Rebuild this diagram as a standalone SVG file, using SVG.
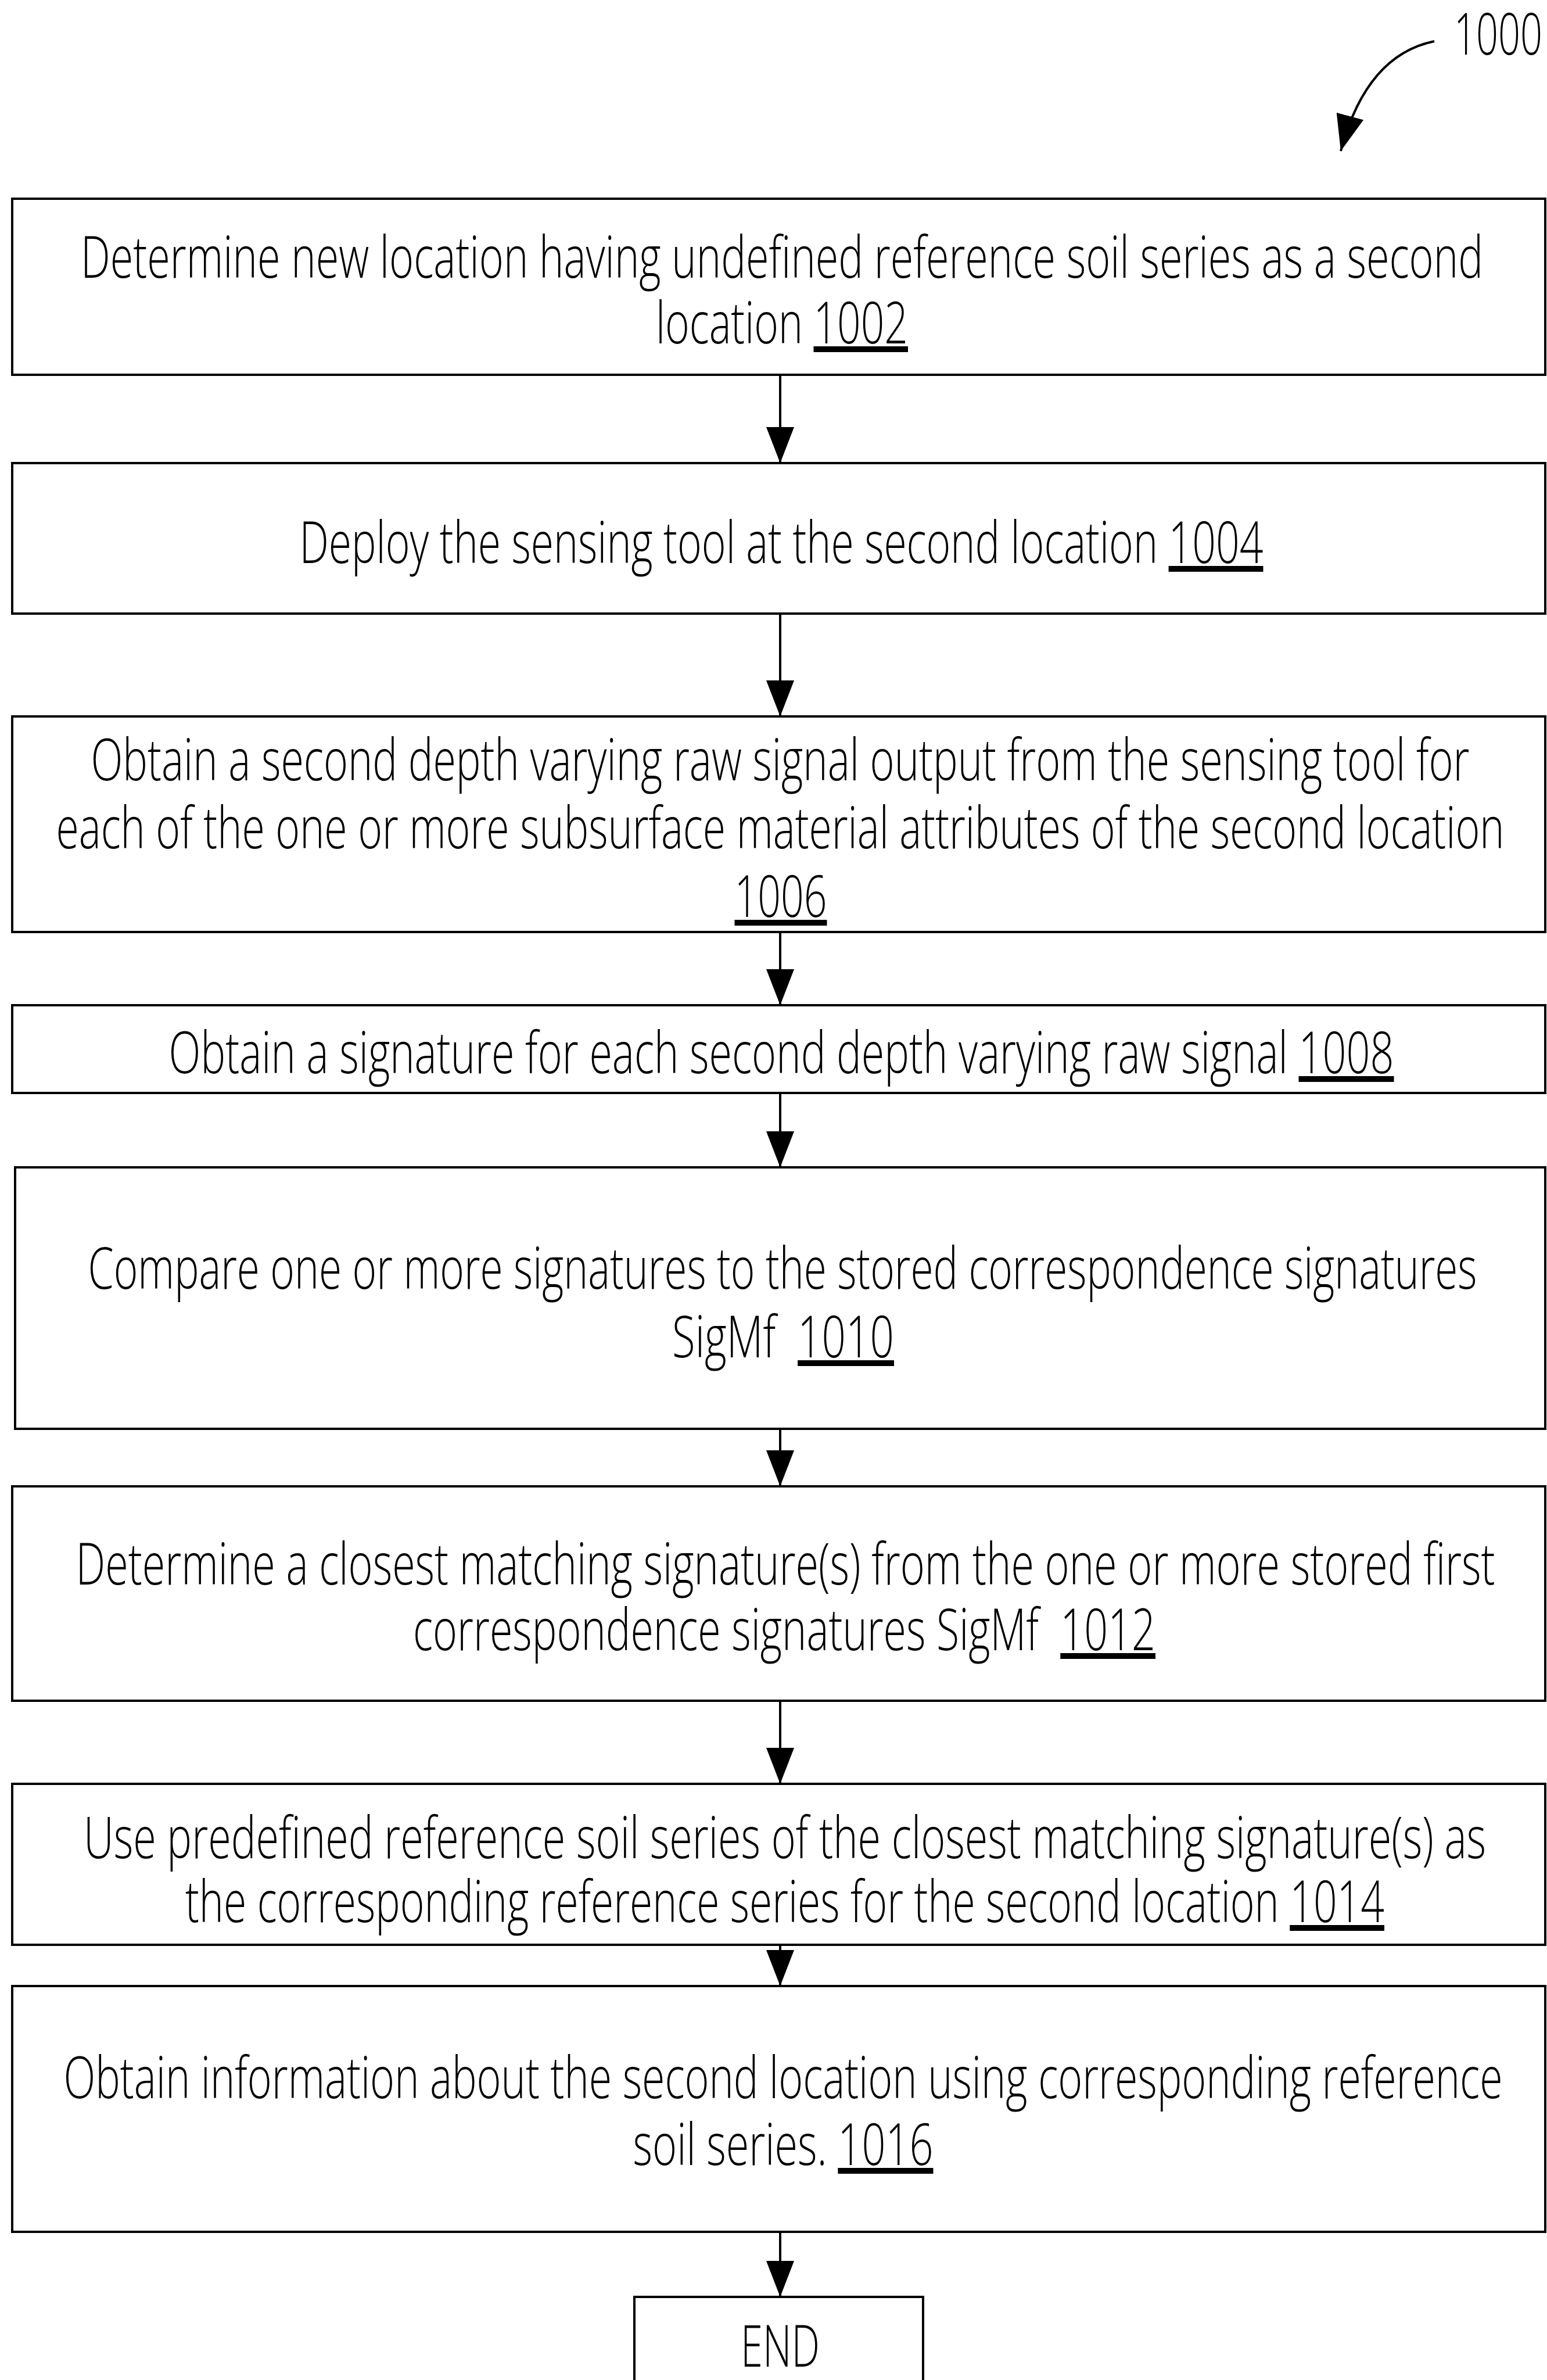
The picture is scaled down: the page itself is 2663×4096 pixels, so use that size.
<svg xmlns="http://www.w3.org/2000/svg" width="2663" height="4096" viewBox="0 0 2663 4096">
<style>
.box{fill:#fff;stroke:#000;stroke-width:4}
.t{font-family:"Open Sans","Liberation Sans",sans-serif;font-weight:300;font-size:100px;fill:#000;text-anchor:middle}
.u{text-decoration:underline}
.c{fill:none;stroke:#000;stroke-width:4}
</style>
<defs>
<marker id="ah" viewBox="0 0 62 48" refX="62" refY="24" markerWidth="62" markerHeight="48" markerUnits="userSpaceOnUse" orient="auto">
<path d="M0,0 L62,24 L0,48 z" fill="#000"/>
</marker>
</defs>
<rect width="2663" height="4096" fill="#fff"/>
<g id="connectors">
<path class="c" d="M2469,71 Q2352,95 2308,260" marker-end="url(#ah)"/>
<line class="c" x1="1343" y1="645" x2="1343" y2="797" marker-end="url(#ah)"/>
<line class="c" x1="1343" y1="1056" x2="1343" y2="1233" marker-end="url(#ah)"/>
<line class="c" x1="1343" y1="1604" x2="1343" y2="1730" marker-end="url(#ah)"/>
<line class="c" x1="1343" y1="1881" x2="1343" y2="2009" marker-end="url(#ah)"/>
<line class="c" x1="1343" y1="2459" x2="1343" y2="2558" marker-end="url(#ah)"/>
<line class="c" x1="1343" y1="2927" x2="1343" y2="3070" marker-end="url(#ah)"/>
<line class="c" x1="1343" y1="3347" x2="1343" y2="3418" marker-end="url(#ah)"/>
<line class="c" x1="1343" y1="3841" x2="1343" y2="3953" marker-end="url(#ah)"/>
</g>
<g id="label1000">
<text class="t" x="2579" y="94" textLength="152" lengthAdjust="spacingAndGlyphs">1000</text>
</g>
<g id="n1002">
<rect class="box" x="21" y="342" width="2639" height="303"/>
<text class="t" x="1346" y="478" textLength="2414" lengthAdjust="spacingAndGlyphs">Determine new location having undefined reference soil series as a second</text>
<text class="t" x="1346" y="591" textLength="434" lengthAdjust="spacingAndGlyphs">location <tspan class="u">1002</tspan></text>
</g>
<g id="n1004">
<rect class="box" x="21" y="797" width="2639" height="259"/>
<text class="t" x="1345" y="969" textLength="1659" lengthAdjust="spacingAndGlyphs">Deploy the sensing tool at the second location <tspan class="u">1004</tspan></text>
</g>
<g id="n1006">
<rect class="box" x="21" y="1233" width="2639" height="371"/>
<text class="t" x="1343" y="1343" textLength="2373" lengthAdjust="spacingAndGlyphs">Obtain a second depth varying raw signal output from the sensing tool for</text>
<text class="t" x="1343" y="1460" textLength="2493" lengthAdjust="spacingAndGlyphs">each of the one or more subsurface material attributes of the second location</text>
<text class="t" x="1344" y="1578" textLength="159" lengthAdjust="spacingAndGlyphs"><tspan class="u">1006</tspan></text>
</g>
<g id="n1008">
<rect class="box" x="21" y="1730" width="2639" height="151"/>
<text class="t" x="1345" y="1847" textLength="2109" lengthAdjust="spacingAndGlyphs">Obtain a signature for each second depth varying raw signal <tspan class="u">1008</tspan></text>
</g>
<g id="n1010">
<rect class="box" x="26" y="2009" width="2634" height="450"/>
<text class="t" x="1347" y="2218" textLength="2391" lengthAdjust="spacingAndGlyphs">Compare one or more signatures to the stored correspondence signatures</text>
<text class="t" x="1348" y="2336" textLength="382" lengthAdjust="spacingAndGlyphs">SigMf&#160; <tspan class="u">1010</tspan></text>
</g>
<g id="n1012">
<rect class="box" x="21" y="2558" width="2639" height="369"/>
<text class="t" x="1352" y="2727" textLength="2443" lengthAdjust="spacingAndGlyphs">Determine a closest matching signature(s) from the one or more stored first</text>
<text class="t" x="1350" y="2840" textLength="1278" lengthAdjust="spacingAndGlyphs">correspondence signatures SigMf&#160; <tspan class="u">1012</tspan></text>
</g>
<g id="n1014">
<rect class="box" x="21" y="3070" width="2639" height="277"/>
<text class="t" x="1351" y="3198" textLength="2414" lengthAdjust="spacingAndGlyphs">Use predefined reference soil series of the closest matching signature(s) as</text>
<text class="t" x="1351" y="3308" textLength="2064" lengthAdjust="spacingAndGlyphs">the corresponding reference series for the second location <tspan class="u">1014</tspan></text>
</g>
<g id="n1016">
<rect class="box" x="21" y="3418" width="2639" height="423"/>
<text class="t" x="1348" y="3611" textLength="2477" lengthAdjust="spacingAndGlyphs">Obtain information about the second location using corresponding reference</text>
<text class="t" x="1348" y="3726" textLength="517" lengthAdjust="spacingAndGlyphs">soil series. <tspan class="u">1016</tspan></text>
</g>
<g id="end">
<rect class="box" x="1092" y="3953" width="497" height="170"/>
<text class="t" x="1343" y="4073" textLength="136" lengthAdjust="spacingAndGlyphs">END</text>
</g>
</svg>
